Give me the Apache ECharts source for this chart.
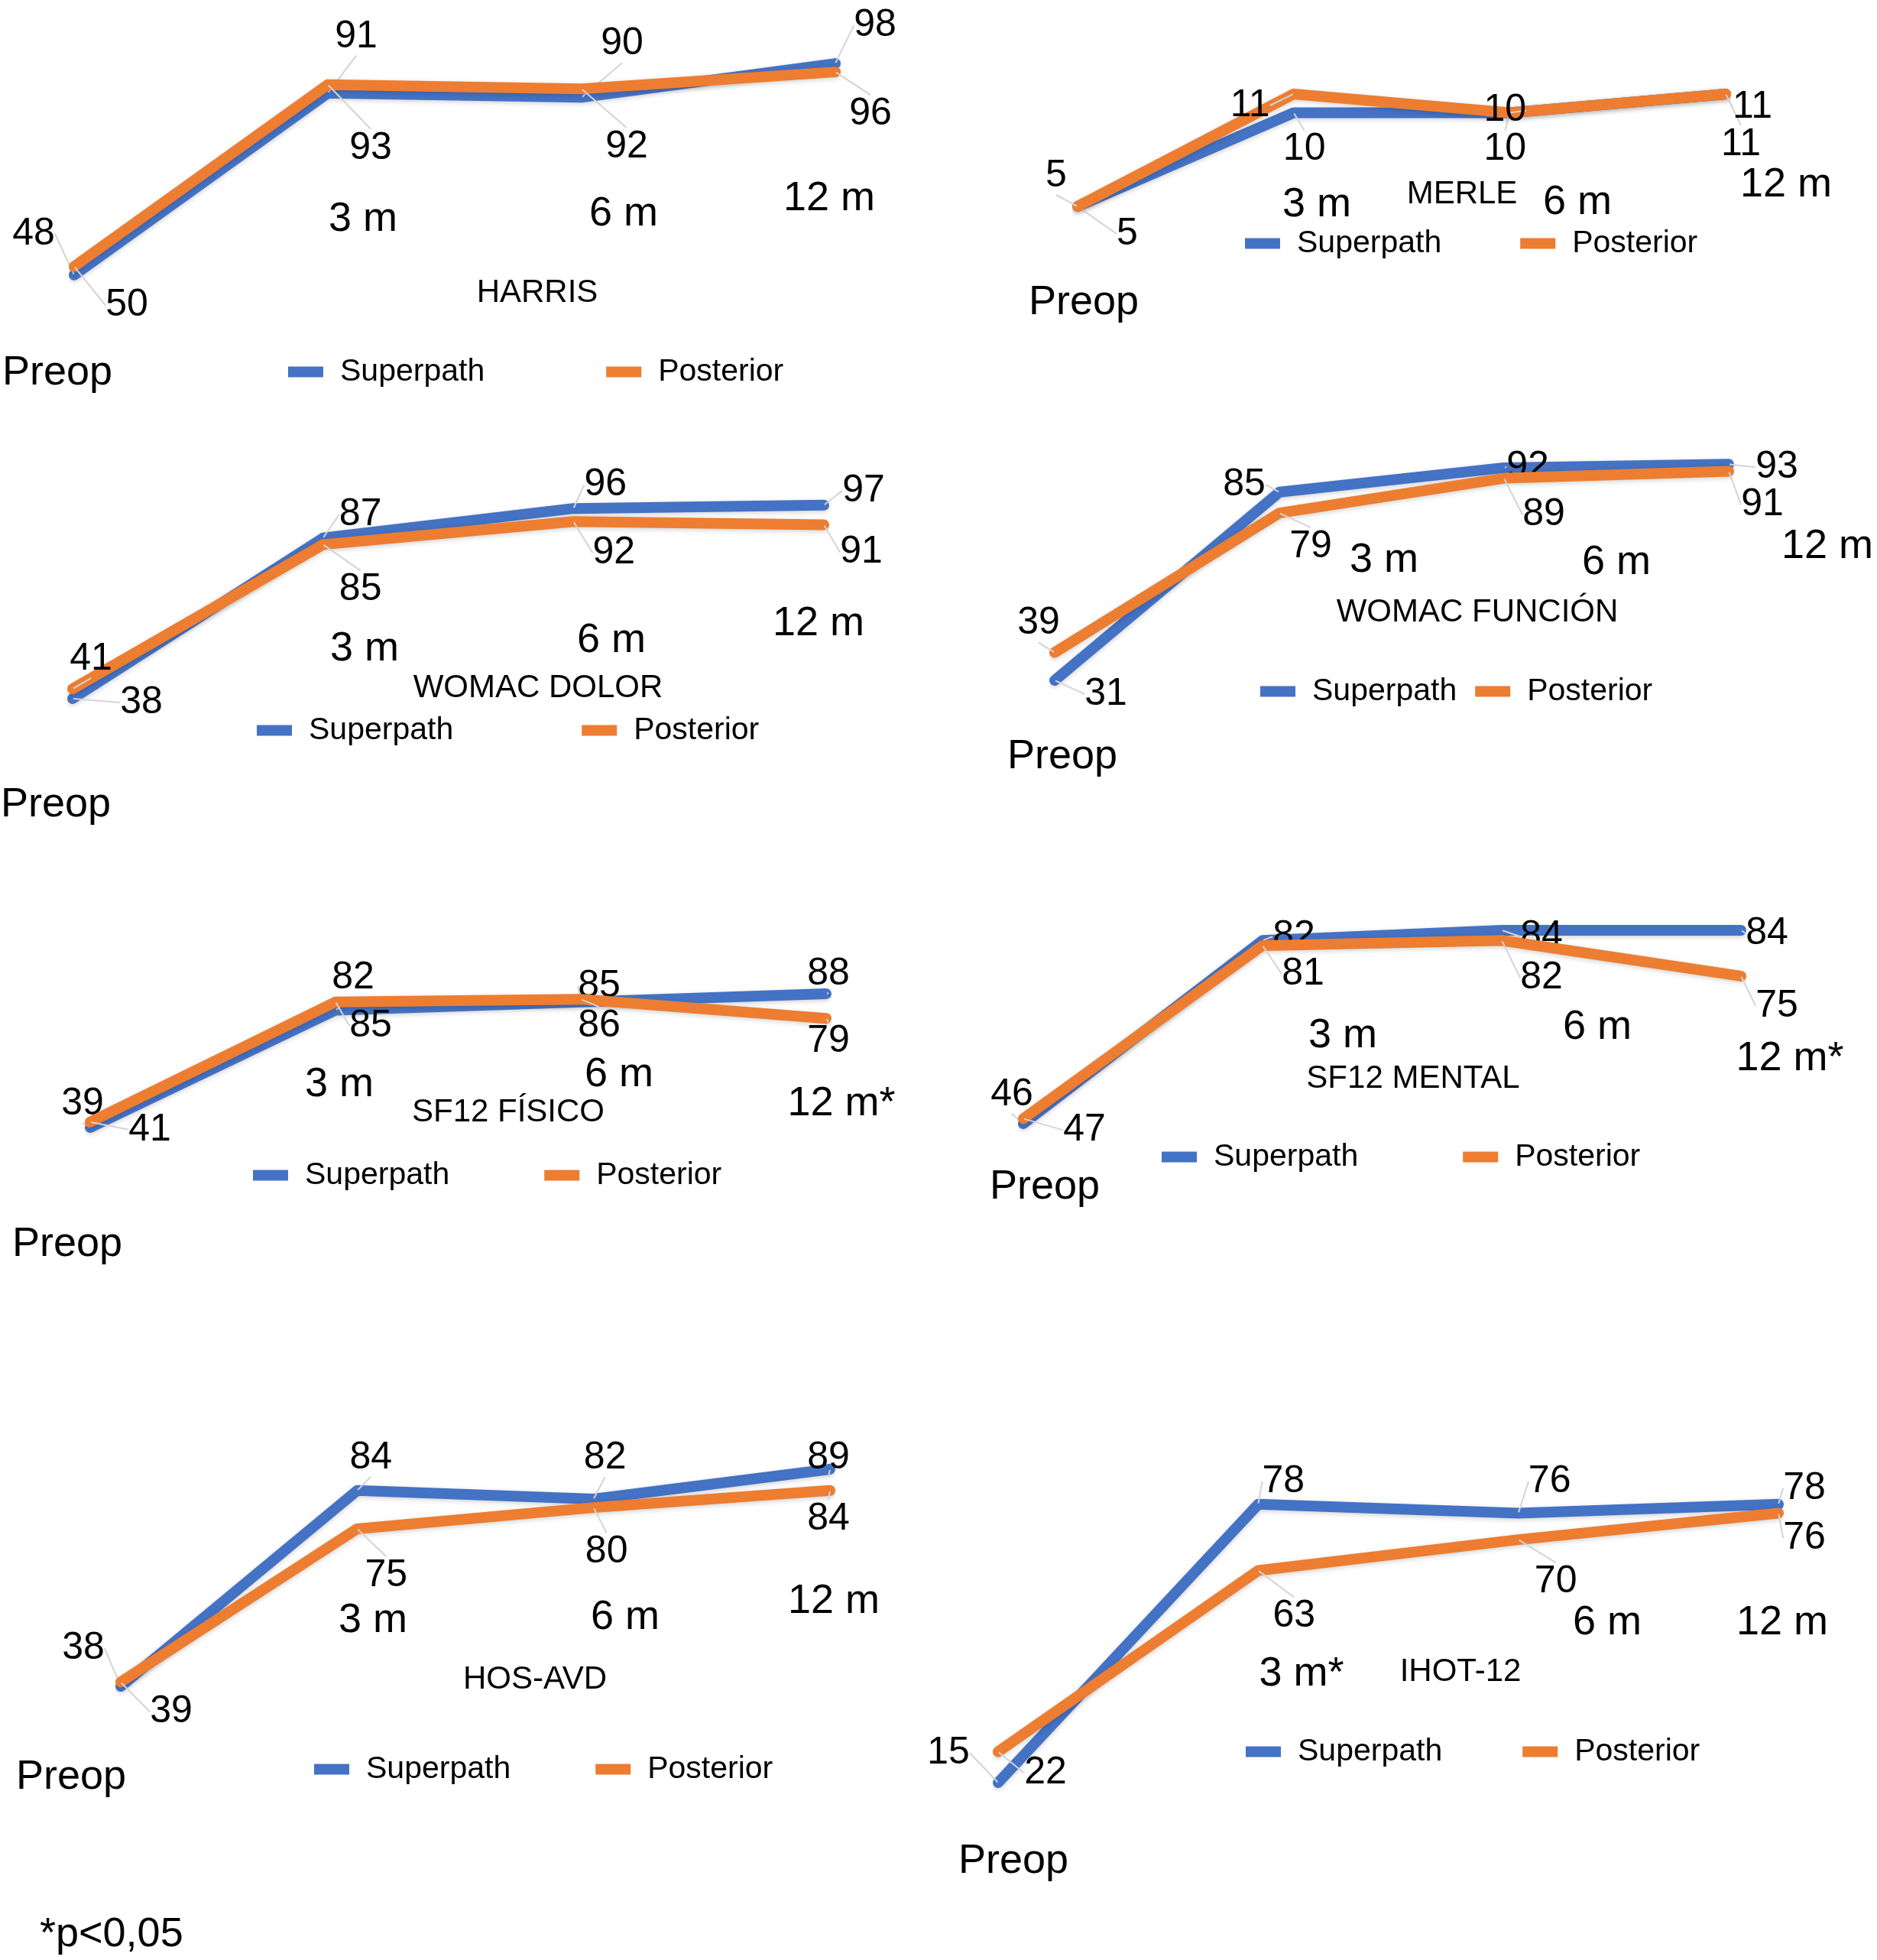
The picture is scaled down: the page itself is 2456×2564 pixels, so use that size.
<!DOCTYPE html>
<html><head><meta charset="utf-8">
<script src="https://cdn.jsdelivr.net/npm/echarts@6/dist/echarts.min.js"></script>
<style>html,body{margin:0;padding:0;background:#fff}#c{width:2456px;height:2564px}</style>
</head><body><div id="c"></div><script>
// ---------- data ----------
const catsStd = ['Preop', '3 m', '6 m', '12 m'];
const catsSf12 = ['Preop', '3 m', '6 m', '12 m*'];
const catsIhot = ['Preop', '3 m*', '6 m', '12 m'];
const seriesNames = ['Superpath', 'Posterior'];
const panelTitles = ['HARRIS', 'MERLE', 'WOMAC DOLOR', 'WOMAC FUNCIÓN', 'SF12 FÍSICO', 'SF12 MENTAL', 'HOS-AVD', 'IHOT-12'];

const harrisSuperpath = [48, 91, 90, 98];
const harrisPosterior = [50, 93, 92, 96];
const merleSuperpath = [5, 10, 10, 11];
const merlePosterior = [5, 11, 10, 11];
const dolorSuperpath = [38, 87, 96, 97];
const dolorPosterior = [41, 85, 92, 91];
const funcionSuperpath = [31, 85, 92, 93];
const funcionPosterior = [39, 79, 89, 91];
const fisicoSuperpath = [39, 82, 85, 88];
const fisicoPosterior = [41, 85, 86, 79];
const mentalSuperpath = [46, 82, 84, 84];
const mentalPosterior = [47, 81, 82, 75];
const hosSuperpath = [38, 84, 82, 89];
const hosPosterior = [39, 75, 80, 84];
const ihotSuperpath = [15, 78, 76, 78];
const ihotPosterior = [22, 63, 70, 76];
const footnote = '*p<0,05';

// ---------- layout / style ----------
const FONT = "'Liberation Sans', Arial, Helvetica, sans-serif";
const BLUE = '#4472C4', ORANGE = '#ED7D31';
const panels = [
  { cats: catsStd, a: harrisSuperpath, b: harrisPosterior, min: 40, max: 100,
    grid: [97, 72, 996, 332],
    offA: [[-53,-54],[37,-74],[53,-70],[52,-50]], offB: [[69,51],[56,83],[59,76],[46,55]],
    catPos: [[75,488],[475,287],[816,280],[1085,260]], titlePos: [703,383],
    legend: [377, 491, 159] },
  { cats: catsStd, a: merleSuperpath, b: merlePosterior, min: 4, max: 12,
    grid: [1410, 98.5, 848, 196],
    offA: [[65,36],[14,48],[-6,48],[20,66]], offB: [[-28,-40],[-57,15],[-6,-3],[35,17]],
    catPos: [[1418,396],[1723,268],[2064,265],[2337,242]], titlePos: [1913,254],
    legend: [1629, 323, 103] },
  { cats: catsStd, a: dolorSuperpath, b: dolorPosterior, min: 30, max: 100,
    grid: [95, 648, 983, 300.3],
    offA: [[90,5],[49,-31],[42,-31],[52,-19]], offB: [[24,-39],[49,59],[53,41],[49,36]],
    catPos: [[73,1053],[477,849],[800,838],[1071,816]], titlePos: [704,900],
    legend: [336, 960, 168] },
  { cats: catsStd, a: funcionSuperpath, b: funcionPosterior, min: 30, max: 100,
    grid: [1380, 575.4, 882, 319.2],
    offA: [[67,18],[-46,-10],[31,-1],[63,4]], offB: [[-21,-38],[41,44],[52,48],[44,44]],
    catPos: [[1390,990],[1811,733],[2115,736],[2391,715]], titlePos: [1933,801],
    legend: [1649, 909, 24] },
  { cats: catsSf12, a: fisicoSuperpath, b: fisicoPosterior, min: 30, max: 100,
    grid: [118, 1257.2, 963, 249.9],
    offA: [[-10,-31],[23,-42],[24,-21],[3,-26]], offB: [[78,10],[46,31],[24,35],[3,30]],
    catPos: [[88,1628],[444,1419],[810,1406],[1101,1444]], titlePos: [665,1455],
    legend: [331, 1542, 124] },
  { cats: catsSf12, a: mentalSuperpath, b: mentalPosterior, min: 40, max: 90,
    grid: [1339, 1177, 939, 333],
    offA: [[-15,-38],[41,-5],[52,8],[34,4]], offB: [[80,15],[53,37],[52,49],[47,39]],
    catPos: [[1367,1553],[1757,1355],[2090,1344],[2342,1385]], titlePos: [1849,1411],
    legend: [1520, 1518, 137] },
  { cats: catsStd, a: hosSuperpath, b: hosPosterior, min: 30, max: 100,
    grid: [158, 1860.7, 928, 389.9],
    offA: [[-49,-50],[18,-43],[15,-54],[-2,-15]], offB: [[66,39],[38,61],[17,58],[-2,37]],
    catPos: [[93,2325],[488,2120],[818,2116],[1091,2095]], titlePos: [700,2197],
    legend: [411, 2319, 111] },
  { cats: catsIhot, a: ihotSuperpath, b: ihotPosterior, min: 10, max: 90,
    grid: [1306, 1898.5, 1021, 462.4],
    offA: [[-65,-39],[33,-30],[41,-41],[34,-21]], offB: [[62,28],[47,60],[49,55],[34,33]],
    catPos: [[1326,2435],[1703,2190],[2103,2123],[2332,2123]], titlePos: [1911,2187],
    legend: [1630, 2296, 105] }
];

const option = { animation: false, backgroundColor: '#fff', grid: [], xAxis: [], yAxis: [], series: [], legend: [], graphic: [] };

function makeSeries(name, data, color, idx, offs, z) {
  return {
    type: 'line', name: name, data: data, xAxisIndex: idx, yAxisIndex: idx,
    symbol: 'circle', symbolSize: 2, showSymbol: true, z: z,
    lineStyle: { width: 14, color: color, shadowBlur: 6, shadowColor: 'rgba(0,0,0,0.18)', shadowOffsetY: 2, cap: 'round', join: 'round' },
    itemStyle: { color: color },
    label: { show: true, position: 'inside', fontSize: 50, color: '#000', fontFamily: FONT },
    labelLine: { show: true, lineStyle: { color: '#d4d4d4', width: 2 } },
    labelLayout: function (p) { const o = offs[p.dataIndex]; return { dx: o[0], dy: o[1] }; },
    emphasis: { disabled: true }
  };
}

panels.forEach(function (p, i) {
  option.grid.push({ left: p.grid[0], top: p.grid[1], width: p.grid[2], height: p.grid[3], containLabel: false });
  option.xAxis.push({ type: 'category', gridIndex: i, data: p.cats, boundaryGap: false, show: false });
  option.yAxis.push({ type: 'value', gridIndex: i, min: p.min, max: p.max, show: false, splitLine: { show: false } });
  option.series.push(makeSeries(seriesNames[0], p.a, BLUE, i, p.offA, 2));
  option.series.push(makeSeries(seriesNames[1], p.b, ORANGE, i, p.offB, 3));
  option.legend.push({
    data: seriesNames, left: p.legend[0], top: p.legend[1] - 25, itemWidth: 46, itemHeight: 14, itemGap: p.legend[2],
    icon: 'rect', selectedMode: false, padding: 0,
    textStyle: { fontSize: 41, color: '#000', fontFamily: FONT, padding: [0, 0, 0, 17] }
  });
  p.cats.forEach(function (c, k) {
    option.graphic.push({ type: 'text', x: p.catPos[k][0], y: p.catPos[k][1], silent: true,
      style: { text: c, fill: '#000', font: '54px ' + FONT, align: 'center', verticalAlign: 'middle' } });
  });
  option.graphic.push({ type: 'text', x: p.titlePos[0], y: p.titlePos[1], silent: true,
    style: { text: panelTitles[i], fill: '#000', font: '42px ' + FONT, align: 'center', verticalAlign: 'middle' } });
});
option.graphic.push({ type: 'text', x: 52, y: 2531, silent: true,
  style: { text: footnote, fill: '#000', font: '54px ' + FONT, align: 'left', verticalAlign: 'middle' } });

const chart = echarts.init(document.getElementById('c'), null, { renderer: 'canvas' });
chart.setOption(option);
</script></body></html>
